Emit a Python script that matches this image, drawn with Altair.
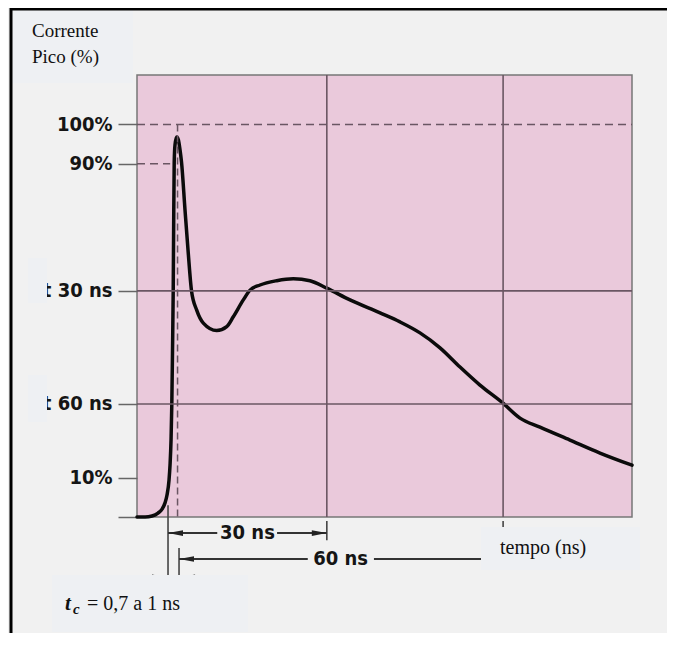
import altair as alt
import pandas as pd

# ---------------- data ----------------
time_ns = [-5.86, -4.34, -3.02, -1.89, -1.13, -0.57, -0.19, 0.19, 0.38, 0.57,
           0.72, 0.85, 0.98, 1.06, 1.17, 1.32, 1.64, 1.95, 2.27, 2.55,
           3.21, 3.78, 4.44, 5.42, 6.67, 9.20, 11.09, 12.33, 14.22, 15.49,
           17.38, 20.53, 23.67, 26.82, 29.98, 34.38, 40.05, 43.82, 47.60, 51.38,
           55.16, 58.93, 63.28, 66.49, 70.27, 75.93, 81.60, 87.65]
current_pct = [0.0, 0.0, 0.25, 1.0, 2.0, 3.6, 5.6, 9.4, 13.2, 19.6,
               29.0, 42.5, 57.6, 73.1, 90.4, 94.8, 96.8, 96.1, 93.5, 90.4,
               78.2, 68.0, 57.6, 52.7, 49.4, 47.5, 48.5, 51.0, 55.3, 57.8,
               59.1, 60.2, 60.7, 60.2, 58.3, 55.3, 52.0, 49.7, 46.9, 43.1,
               38.2, 33.6, 29.0, 25.2, 22.9, 19.6, 16.3, 13.2]

ytick_values = [0, 10, 28.8, 57.6, 90, 100]
ytick_labels = ["", "10%", "t 60 ns", "t 30 ns", "90%", "100%"]

grid_level_pct = [57.6, 28.8]
grid_time_ns = [30, 63.3]

ref_level_pct = [100, 90]
ref_end_ns = [87.65, 0.4]

peak_time_ns = [1.8]

dim_labels = ["30 ns", "60 ns"]
dim_label_ns = [15.0, 32.6]
dim_level_pct = [-4.1, -10.7]

seg_start_ns = [0, 20.6, 2.08, 38.9]
seg_end_ns = [9.3, 30, 26.4, 66]
seg_level_pct = [-4.1, -4.1, -10.7, -10.7]

bar_time_ns = [0, 30, 2.08, 63.3]
bar_top_pct = [3.0, -1.0, -7.9, -1.0]
bar_bottom_pct = [-15.8, -5.9, -15.8, -12.0]

arrow_left_ns = [0, 2.08, 2.27]
arrow_left_pct = [-4.1, -10.7, -15.4]
arrow_right_ns = [30, -0.19]
arrow_right_pct = [-4.1, -15.4]

y_title = ["Corrente", "Pico (%)"]
x_title = "tempo (ns)"
tc_symbol = "t"
tc_sub = "c"
tc_text = "= 0,7 a 1 ns"

X_DOMAIN = [-5.86, 87.65]
Y_DOMAIN = [0, 112.6]

# ---------------- styles ----------------
GRID = "#6a5663"
BOX = "#eef0f3"
INK = "#151515"
COND = "DejaVu Sans Condensed, Liberation Sans Narrow, DejaVu Sans, sans-serif"
SERIF = "Liberation Serif, Times New Roman, serif"

xs = alt.Scale(domain=X_DOMAIN, nice=False, zero=False)
ys = alt.Scale(domain=Y_DOMAIN, nice=False, zero=False)

label_expr = " : ".join(
    f"datum.value == {v} ? '{l}'" for v, l in zip(ytick_values, ytick_labels)
) + " : ''"

yaxis = alt.Axis(values=ytick_values, labelExpr=label_expr, title=None,
                 domain=False, grid=False, ticks=True, tickSize=19,
                 tickColor="#666666", tickWidth=1.5, labelFont=COND,
                 labelFontWeight="bold", labelFontSize=20, labelColor=INK,
                 labelPadding=6, labelOverlap=False)


def X(field):
    return alt.X(field, scale=xs, axis=None)


def Y(field):
    return alt.Y(field, scale=ys, axis=yaxis)


curve_df = pd.DataFrame({"t": time_ns, "pct": current_pct})

grid_h = alt.Chart(pd.DataFrame({"pct": grid_level_pct})).mark_rule(
    color=GRID, strokeWidth=1.6).encode(y=Y("pct:Q"))

grid_v = alt.Chart(pd.DataFrame({"t": grid_time_ns})).mark_rule(
    color=GRID, strokeWidth=1.6).encode(x=X("t:Q"))

ref_df = pd.DataFrame({"pct": ref_level_pct,
                       "t0": [X_DOMAIN[0]] * len(ref_level_pct),
                       "t1": ref_end_ns})
ref_h = alt.Chart(ref_df).mark_rule(color=GRID, strokeWidth=1.6,
                                    strokeDash=[8, 5]).encode(
    x=X("t0:Q"), x2="t1:Q", y=Y("pct:Q"))

peak_df = pd.DataFrame({"t": peak_time_ns, "top": [100], "bot": [0]})
peak_v = alt.Chart(peak_df).mark_rule(color=GRID, strokeWidth=1.5,
                                      strokeDash=[7, 4]).encode(
    x=X("t:Q"), y=Y("top:Q"), y2="bot:Q")

bar_df = pd.DataFrame({"t": bar_time_ns, "top": bar_top_pct, "bot": bar_bottom_pct})
bars = alt.Chart(bar_df).mark_rule(color="#444444", strokeWidth=1.6).encode(
    x=X("t:Q"), y=Y("top:Q"), y2="bot:Q")

seg_df = pd.DataFrame({"t0": seg_start_ns, "t1": seg_end_ns, "pct": seg_level_pct})
segs = alt.Chart(seg_df).mark_rule(color="#333333", strokeWidth=2).encode(
    x=X("t0:Q"), x2="t1:Q", y=Y("pct:Q"))

LEFT_HEAD = "M-1,0L1,-0.38L1,0.38Z"
RIGHT_HEAD = "M1,0L-1,-0.38L-1,0.38Z"
heads_l = alt.Chart(pd.DataFrame({"t": arrow_left_ns, "pct": arrow_left_pct})).mark_point(
    shape=LEFT_HEAD, filled=True, size=225, color="#222222", opacity=1, xOffset=7.5).encode(
    x=X("t:Q"), y=Y("pct:Q"))
heads_r = alt.Chart(pd.DataFrame({"t": arrow_right_ns, "pct": arrow_right_pct})).mark_point(
    shape=RIGHT_HEAD, filled=True, size=225, color="#222222", opacity=1, xOffset=-7.5).encode(
    x=X("t:Q"), y=Y("pct:Q"))

dim_df = pd.DataFrame({"label": dim_labels, "t": dim_label_ns, "pct": dim_level_pct})
dim_text = alt.Chart(dim_df).mark_text(font=COND, fontWeight="bold", fontSize=20,
                                       color=INK, align="center", baseline="middle").encode(
    x=X("t:Q"), y=Y("pct:Q"), text="label:N")

curve = alt.Chart(curve_df).mark_line(interpolate="monotone", color="#0b0b0b",
                                      strokeWidth=3.5, strokeCap="round",
                                      strokeJoin="round").encode(
    x=X("t:Q"), y=Y("pct:Q"))

one = pd.DataFrame({"k": [0]})


def box(x0, x1, y0, y1):
    return alt.Chart(one).mark_rect(color=BOX).encode(
        x=alt.value(x0), x2=alt.value(x1), y=alt.value(y0), y2=alt.value(y1))


def label(txt, x, y, **kw):
    return alt.Chart(one).mark_text(text=txt, align="left", baseline="alphabetic",
                                    color="#111111", **kw).encode(
        x=alt.value(x), y=alt.value(y))


def frame(x0, x1, y0, y1):
    return alt.Chart(one).mark_rule(color="black", strokeWidth=3).encode(
        x=alt.value(x0), x2=alt.value(x1), y=alt.value(y0), y2=alt.value(y1))


layers = [
    curve, grid_h, grid_v, ref_h, peak_v, bars, segs, heads_l, heads_r, dim_text,
    box(-126, -4, -69, 8),
    box(-109, -90, 183, 228),
    box(-109, -90, 300, 347),
    box(344, 503, 452, 495),
    box(-85, 111, 500, 557),
    label(y_title[0], -105, -38, font=SERIF, fontSize=19),
    label(y_title[1], -105, -12, font=SERIF, fontSize=19),
    label(x_title, 363, 479, font=SERIF, fontSize=20),
    label(tc_symbol, -72, 535, font=SERIF, fontSize=21, fontWeight="bold", fontStyle="italic"),
    label(tc_sub, -64, 539, font=SERIF, fontSize=15, fontWeight="bold", fontStyle="italic"),
    label(tc_text, -50, 535, font=SERIF, fontSize=20),
    frame(-127, 530, -66, -66),
    frame(-126, -126, -67, 558),
]

chart = alt.layer(*layers).properties(
    width=495, height=442,
    autosize=alt.AutoSizeParams(type="none"),
    padding={"left": 129, "top": 67, "right": 35, "bottom": 116},
    background="#f1f1f1",
).configure_view(fill="#eac9db", stroke="#777777", strokeWidth=1.5)

chart.save("out.html", embed_options={"renderer": "svg", "actions": False})
